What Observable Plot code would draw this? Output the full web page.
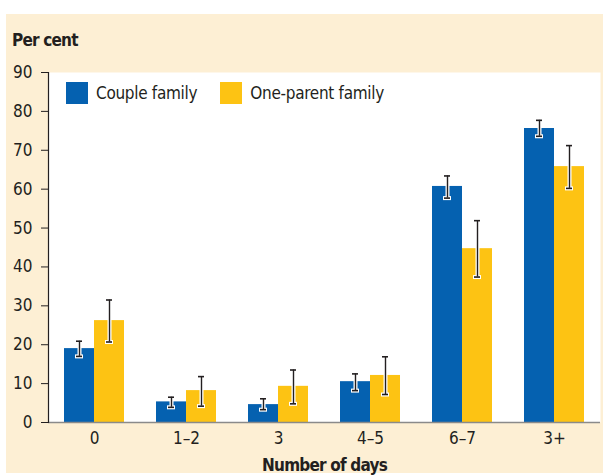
<!DOCTYPE html>
<html>
<head>
<meta charset="utf-8">
<script src="https://cdn.jsdelivr.net/npm/d3@7"></script>
<script src="https://cdn.jsdelivr.net/npm/@observablehq/plot@0.6"></script>
<style>
  html, body { margin: 0; padding: 0; background: #ffffff; }
  #wrap { position: relative; width: 603px; height: 476px; overflow: hidden;
    font-family: "Liberation Sans Narrow", "DejaVu Sans Condensed", sans-serif; }
  #panel { position: absolute; left: 6px; top: 14px; width: 600px; height: 459px; background: #fdefd4; }
  #title { position: absolute; left: 12px; top: 30px; font-size: 17px; font-weight: bold; color: #231f20; letter-spacing: -0.8px; }
  #legend { position: absolute; left: 66px; top: 82px; display: flex; align-items: center; font-size: 17px; color: #231f20; letter-spacing: -0.3px; }
  #legend .sw { display: inline-block; width: 22px; height: 22px; margin-right: 8px; }
  #legend .item { display: flex; align-items: center; margin-right: 23px; }
  #chart { position: absolute; left: 0; top: 0; }
  #chart svg { background: transparent !important; }
  g[aria-label="x-axis label"] text { font-weight: bold; letter-spacing: -0.8px; }
</style>
</head>
<body>
<div id="wrap">
  <div id="panel"></div>
  <div id="chart"></div>
  <div id="title">Per cent</div>
  <div id="legend"></div>
</div>
<script>
const categories = ["0", "1\u20132", "3", "4\u20135", "6\u20137", "3+"];
const series = ["Couple family", "One-parent family"];
const coupleValues = [19.0, 5.3, 4.6, 10.5, 60.7, 75.6];
const coupleLow    = [17.0, 3.9, 3.3, 8.2, 57.7, 73.6];
const coupleHigh   = [20.9, 6.5, 6.1, 12.5, 63.4, 77.7];
const oneParentValues = [26.2, 8.2, 9.3, 12.1, 44.7, 65.8];
const oneParentLow    = [20.7, 4.2, 4.8, 7.2, 37.4, 60.2];
const oneParentHigh   = [31.5, 11.8, 13.5, 16.9, 51.9, 71.2];
const yTicks = [0, 10, 20, 30, 40, 50, 60, 70, 80, 90];
const colors = ["#0561b0", "#fdc313"];

const couple = categories.map((c, i) => ({cat: c, value: coupleValues[i], lo: coupleLow[i], hi: coupleHigh[i]}));
const single = categories.map((c, i) => ({cat: c, value: oneParentValues[i], lo: oneParentLow[i], hi: oneParentHigh[i]}));

const font = '"Liberation Sans Narrow", "DejaVu Sans Condensed", sans-serif';

function errorMarks(data, dx, capL, capR) {
  return [
    Plot.ruleX(data, {x: "cat", y1: "lo", y2: "hi", dx, stroke: "white", strokeWidth: 4}),
    Plot.tickY(data, {x: "cat", y: "lo", insetLeft: capL - 1, insetRight: capR - 1, stroke: "white", strokeWidth: 4}),
    Plot.tickY(data, {x: "cat", y: "hi", insetLeft: capL - 1, insetRight: capR - 1, stroke: "white", strokeWidth: 4}),
    Plot.ruleX(data, {x: "cat", y1: "lo", y2: "hi", dx, stroke: "#231f20", strokeWidth: 1.4}),
    Plot.tickY(data, {x: "cat", y: "lo", insetLeft: capL, insetRight: capR, stroke: "#231f20", strokeWidth: 1.6}),
    Plot.tickY(data, {x: "cat", y: "hi", insetLeft: capL, insetRight: capR, stroke: "#231f20", strokeWidth: 1.6})
  ];
}

const chart = Plot.plot({
  width: 603,
  height: 476,
  marginLeft: 48,
  marginRight: 3,
  marginTop: 72,
  marginBottom: 54,
  style: {fontFamily: font, fontSize: "17px", color: "#231f20", background: "transparent"},
  x: {type: "band", domain: categories, paddingInner: 0.35, paddingOuter: 0.168, label: null},
  y: {domain: [0, 90], ticks: yTicks, label: null},
  marks: [
    Plot.frame({fill: "white", stroke: null}),
    Plot.barY(couple, {x: "cat", y: "value", fill: colors[0], insetRight: 30}),
    Plot.barY(single, {x: "cat", y: "value", fill: colors[1], insetLeft: 30}),
    ...errorMarks(couple, -15, 12, 42),
    ...errorMarks(single, 15, 42, 12),
    Plot.ruleY([0], {stroke: "#8a8a8a", strokeWidth: 1.6}),
    Plot.frame({anchor: "left", stroke: "#231f20", strokeWidth: 1.2}),
    Plot.axisY({ticks: yTicks, tickSize: 7, tickPadding: 9, stroke: "#231f20", fontSize: 17, label: null}),
    Plot.axisX({tickSize: 0, tickPadding: 9, fontSize: 17, label: "Number of days", labelAnchor: "center", labelOffset: 48})
  ]
});
document.getElementById("chart").appendChild(chart);

const legend = document.getElementById("legend");
series.forEach((s, i) => {
  const item = document.createElement("div");
  item.className = "item";
  const sw = document.createElement("span");
  sw.className = "sw";
  sw.style.background = colors[i];
  item.appendChild(sw);
  item.appendChild(document.createTextNode(s));
  legend.appendChild(item);
});
</script>
</body>
</html>
